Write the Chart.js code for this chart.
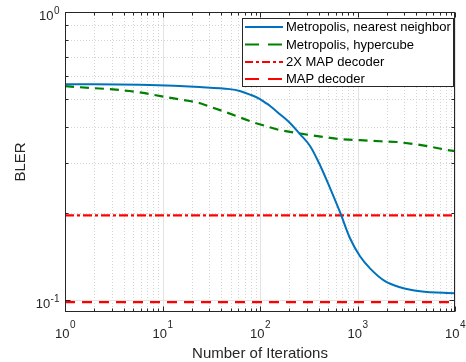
<!DOCTYPE html>
<html>
<head>
<meta charset="utf-8">
<script src="https://cdn.jsdelivr.net/npm/chart.js@4/dist/chart.umd.min.js"></script>
<style>
  html, body { margin: 0; padding: 0; background: #fff; }
  #wrap { width: 466px; height: 362px; }
</style>
</head>
<body>
<div id="wrap"><canvas id="chart" width="466" height="362"></canvas></div>
<script>
// Du lieu doc tu hinh
const seriesNames = ['Metropolis, nearest neighbor', 'Metropolis, hypercube', '2X MAP decoder', 'MAP decoder'];

const iterNN = [1, 7.4, 24, 49, 62, 79, 100, 113, 127, 160, 203, 257, 326, 413, 523, 662, 838, 1061, 1343, 1915, 2730, 4380, 10000];
const blerNN = [0.562, 0.558, 0.549, 0.540, 0.532, 0.517, 0.499, 0.485, 0.472, 0.442, 0.412, 0.377, 0.343, 0.294, 0.245, 0.202, 0.164, 0.142, 0.129, 0.1164, 0.1109, 0.1074, 0.1057];

const iterHC = [1, 1.8, 2.9, 4.6, 6.6, 10.6, 19, 24, 44, 89, 160, 326, 662, 1060, 1700, 2540, 3890, 5810, 8280, 10000];
const blerHC = [0.553, 0.545, 0.540, 0.532, 0.523, 0.507, 0.491, 0.483, 0.450, 0.412, 0.389, 0.374, 0.362, 0.359, 0.356, 0.354, 0.348, 0.340, 0.332, 0.329];

const iterRange = [1, 10000];
const bler2xMap = [0.197, 0.197];
const blerMap = [0.0985, 0.0985];

// Nhan truc
const xTicks = [1, 10, 100, 1000, 10000];
const xTickExp = ['0', '1', '2', '3', '4'];
const yTicks = [0.1, 1];
const yTickExp = ['-1', '0'];
const xTitle = 'Number of Iterations';
const yTitle = 'BLER';

const FONT = '"Liberation Sans", Arial, Helvetica, sans-serif';

function toPoints(xs, ys) {
    return xs.map((x, i) => ({ x: x, y: ys[i] }));
}

// Cac vach phu (2..9 trong moi bac)
function minorValues(lo, hi) {
    const out = [];
    for (let d = lo; d < hi; d++) {
        for (let k = 2; k <= 9; k++) out.push(k * Math.pow(10, d));
    }
    return out;
}

const legendStyles = [
    { color: '#0072BD', dash: [], width: 2 },
    { color: '#008000', dash: [14, 9], width: 2.2 },
    { color: '#FF0000', dash: [8, 3, 3, 3], width: 2.2 },
    { color: '#FF0000', dash: [14, 9], width: 2.2 }
];

// Ve so mu 10^n
function drawPow(ctx, exp, x, yBase, yExp, align) {
    ctx.font = '13px ' + FONT;
    const wb = ctx.measureText('10').width;
    ctx.font = '10px ' + FONT;
    const we = ctx.measureText(exp).width;
    let start = align === 'center' ? x - (wb + we) / 2 : x - (wb + we);
    ctx.fillStyle = '#262626';
    ctx.textAlign = 'left';
    ctx.textBaseline = 'alphabetic';
    ctx.font = '13px ' + FONT;
    ctx.fillText('10', start, yBase);
    ctx.font = '10px ' + FONT;
    ctx.fillText(exp, start + wb + 0.5, yExp);
}

const gridPlugin = {
    id: 'matlabGrid',
    beforeDatasetsDraw(chart) {
        const { ctx, chartArea: a, scales } = chart;
        const xs = scales.x, ys = scales.y;
        ctx.save();
        // minor dotted
        ctx.strokeStyle = '#d4d4d4';
        ctx.lineWidth = 1;
        ctx.setLineDash([1, 2]);
        minorValues(0, 4).forEach(v => {
            const px = Math.round(xs.getPixelForValue(v)) + 0.5;
            ctx.beginPath(); ctx.moveTo(px, a.top); ctx.lineTo(px, a.bottom); ctx.stroke();
        });
        minorValues(-1, 0).forEach(v => {
            const py = Math.round(ys.getPixelForValue(v)) + 0.5;
            ctx.beginPath(); ctx.moveTo(a.left, py); ctx.lineTo(a.right, py); ctx.stroke();
        });
        // major solid
        ctx.setLineDash([]);
        ctx.strokeStyle = '#e3e3e3';
        xTicks.forEach(v => {
            const px = Math.round(xs.getPixelForValue(v)) + 0.5;
            ctx.beginPath(); ctx.moveTo(px, a.top); ctx.lineTo(px, a.bottom); ctx.stroke();
        });
        yTicks.forEach(v => {
            const py = Math.round(ys.getPixelForValue(v)) + 0.5;
            ctx.beginPath(); ctx.moveTo(a.left, py); ctx.lineTo(a.right, py); ctx.stroke();
        });
        ctx.restore();
    },
    afterDraw(chart) {
        const { ctx, chartArea: a, scales } = chart;
        const xs = scales.x, ys = scales.y;
        ctx.save();
        const L = Math.round(a.left) + 0.5, R = Math.round(a.right) - 0.5;
        const T = Math.round(a.top) + 0.5, B = Math.round(a.bottom) - 0.5;
        // khung truc
        ctx.strokeStyle = '#262626';
        ctx.lineWidth = 1;
        ctx.strokeRect(L, T, R - L, B - T);
        // vach chia huong vao trong
        const tickX = (v, len) => {
            const px = Math.round(xs.getPixelForValue(v)) + 0.5;
            ctx.beginPath();
            ctx.moveTo(px, B); ctx.lineTo(px, B - len);
            ctx.moveTo(px, T); ctx.lineTo(px, T + len);
            ctx.stroke();
        };
        const tickY = (v, len) => {
            const py = Math.round(ys.getPixelForValue(v)) + 0.5;
            ctx.beginPath();
            ctx.moveTo(L, py); ctx.lineTo(L + len, py);
            ctx.moveTo(R, py); ctx.lineTo(R - len, py);
            ctx.stroke();
        };
        minorValues(0, 4).forEach(v => tickX(v, 3));
        xTicks.forEach(v => tickX(v, 5));
        minorValues(-1, 0).forEach(v => tickY(v, 3));
        yTicks.forEach(v => tickY(v, 5));

        // nhan truc
        xTicks.forEach((v, i) => {
            drawPow(ctx, xTickExp[i], xs.getPixelForValue(v), 338, 328, 'center');
        });
        yTicks.forEach((v, i) => {
            const py = ys.getPixelForValue(v);
            drawPow(ctx, yTickExp[i], 59, py + 8, py + 2, 'right');
        });

        // tieu de truc
        ctx.fillStyle = '#262626';
        ctx.font = '15px ' + FONT;
        ctx.textAlign = 'center';
        ctx.textBaseline = 'alphabetic';
        ctx.fillText(xTitle, (a.left + a.right) / 2, 358);
        ctx.save();
        ctx.translate(25, (a.top + a.bottom) / 2);
        ctx.rotate(-Math.PI / 2);
        ctx.fillText(yTitle, 0, 0);
        ctx.restore();

        // chu giai
        const bx = 242.5, by = 18.5, bw = 211, bh = 68;
        ctx.fillStyle = '#ffffff';
        ctx.fillRect(bx, by, bw, bh);
        ctx.strokeStyle = '#262626';
        ctx.lineWidth = 1;
        ctx.strokeRect(bx, by, bw, bh);
        const rowY = [27, 44.5, 62, 79];
        seriesNames.forEach((name, i) => {
            const st = legendStyles[i];
            ctx.strokeStyle = st.color;
            ctx.lineWidth = st.width;
            ctx.setLineDash(st.dash);
            ctx.beginPath();
            ctx.moveTo(245, rowY[i]); ctx.lineTo(283, rowY[i]);
            ctx.stroke();
            ctx.setLineDash([]);
            ctx.fillStyle = '#000000';
            ctx.font = '13px ' + FONT;
            ctx.textAlign = 'left';
            ctx.textBaseline = 'middle';
            ctx.fillText(name, 286, rowY[i] + 0.5);
        });
        ctx.restore();
    }
};

const bgPlugin = {
    id: 'bg',
    beforeDraw(chart) {
        const ctx = chart.ctx;
        ctx.save();
        ctx.fillStyle = '#ffffff';
        ctx.fillRect(0, 0, chart.width, chart.height);
        ctx.restore();
    }
};

const ctx = document.getElementById('chart').getContext('2d');
new Chart(ctx, {
    type: 'line',
    data: {
        datasets: [
            {
                label: seriesNames[0],
                data: toPoints(iterNN, blerNN),
                borderColor: '#0072BD',
                borderWidth: 2,
                pointRadius: 0,
                cubicInterpolationMode: 'monotone'
            },
            {
                label: seriesNames[1],
                data: toPoints(iterHC, blerHC),
                borderColor: '#008000',
                borderWidth: 2.2,
                borderDash: [9, 6],
                pointRadius: 0
            },
            {
                label: seriesNames[2],
                data: toPoints(iterRange, bler2xMap),
                borderColor: '#FF0000',
                borderWidth: 2.2,
                borderDash: [9, 3, 3, 3],
                pointRadius: 0
            },
            {
                label: seriesNames[3],
                data: toPoints(iterRange, blerMap),
                borderColor: '#FF0000',
                borderWidth: 2.2,
                borderDash: [10, 7],
                pointRadius: 0
            }
        ]
    },
    options: {
        responsive: false,
        devicePixelRatio: 1,
        animation: false,
        layout: { padding: { left: 65, top: 12, right: 11, bottom: 50 } },
        scales: {
            x: { type: 'logarithmic', min: 1, max: 10000, display: false },
            y: { type: 'logarithmic', min: 0.091, max: 1, display: false }
        },
        plugins: {
            legend: { display: false },
            tooltip: { enabled: false }
        }
    },
    plugins: [bgPlugin, gridPlugin]
});
</script>
</body>
</html>
